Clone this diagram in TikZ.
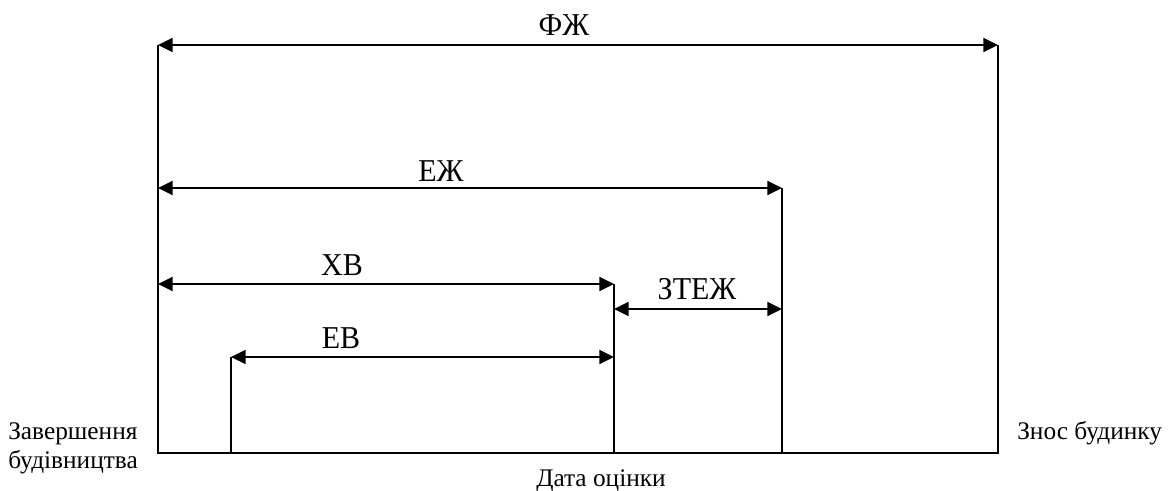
\documentclass[tikz,border=0pt]{standalone}
\usepackage{fontspec}
\setmainfont{Liberation Serif}
\usetikzlibrary{arrows.meta}
\begin{document}
\begin{tikzpicture}[x=0.75pt,y=-0.75pt,
  line/.style={line width=1.5pt},
  span/.style={line width=1.5pt,{Triangle[length=11pt,width=10.5pt]}-{Triangle[length=11pt,width=10.5pt]}},
  lbl/.style={font=\fontsize{22.5}{24}\selectfont,inner sep=0pt,anchor=base,yscale=1.06},
  side/.style={font=\fontsize{19}{22}\selectfont,inner sep=0pt}]
\useasboundingbox (0,0) rectangle (1169,491);
% time axis and the verticals marking the key dates
\coordinate (s0) at (158,453);
\coordinate (s1) at (998,453);
\coordinate (top0) at (158,45);
\coordinate (top1) at (998,45);
\coordinate (ej) at (782,188);
\coordinate (ej0) at (158,188);
\coordinate (ejb) at (782,453);
\coordinate (xv) at (614,284);
\coordinate (xv0) at (158,284);
\coordinate (xvb) at (614,453);
\coordinate (zt0) at (614,309);
\coordinate (zt1) at (782,309);
\coordinate (ev0) at (231,357);
\coordinate (ev1) at (614,357);
\coordinate (evb) at (231,453);
\draw[line] (top0) -- (s0) -- (s1) -- (top1);
\draw[line] (ej) -- (ejb);
\draw[line] (xv) -- (xvb);
\draw[line] (ev0) -- (evb);
% spans between the dates
\draw[span] (top0) -- (top1);
\draw[span] (ej0) -- (ej);
\draw[span] (xv0) -- (xv);
\draw[span] (zt0) -- (zt1);
\draw[span] (ev0) -- (ev1);
% span labels
\node[lbl] (fj) at (564,36) {ФЖ};
\node[lbl] (ejl) at (441,182) {ЕЖ};
\node[lbl] (xvl) at (342,276) {ХВ};
\node[lbl] (ztl) at (697,300) {ЗТЕЖ};
\node[lbl] (evl) at (341,348) {ЕВ};
% date captions
\node[side,anchor=base west] (start1) at (8,439) {Завершення};
\node[side,anchor=base west] (start2) at (8,468) {будівництва};
\node[side,anchor=base west] (end) at (1017,439) {Знос будинку};
\node[side,anchor=base] (date) at (601,486) {Дата оцінки};
\end{tikzpicture}
\end{document}
